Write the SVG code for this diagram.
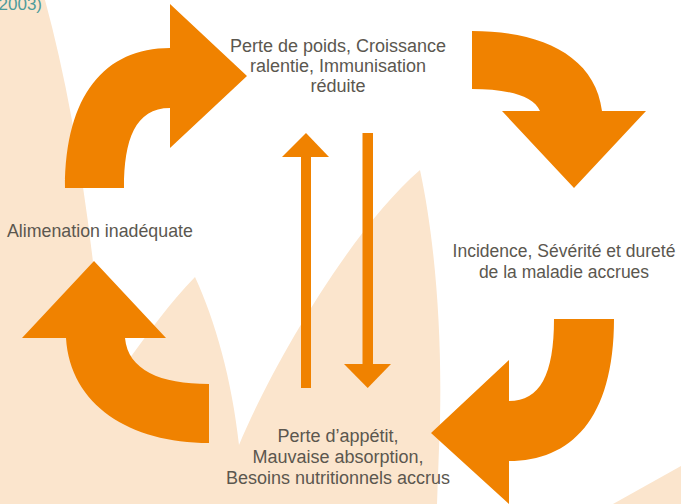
<svg xmlns="http://www.w3.org/2000/svg" width="681" height="504" viewBox="0 0 681 504">
  <style>
    .leaf { fill: #fbe5cd; }
    .arrow { fill: #f08200; }
    .label { font-family: "Liberation Sans", Arial, sans-serif; font-size: 18px; fill: #5b574f; }
    .mid { text-anchor: middle; }
    .ref { font-family: "Liberation Sans", Arial, sans-serif; font-size: 17px; fill: #4e9b9b; text-anchor: end; }
  </style>

  <rect width="681" height="504" fill="#ffffff"/>

  <!-- soft leaf shapes behind the cycle -->
  <g id="background">
    <path class="leaf" d="M0,0 L45,0 Q75,110 93,262 L118,350 L125,365 C150,330 170,303 195,277 C215,320 232,380 239,445 C270,370 350,230 420,170 C435,240 442,330 440,420 L437,504 L0,504 Z"/>
    <path class="leaf" d="M613,504 L681,466 L681,504 Z"/>
  </g>

  <text class="ref" x="42" y="10">2003)</text>

  <!-- nodes -->
  <g id="node-perte-poids">
    <text class="label mid" x="338" y="51.5">Perte de poids, Croissance</text>
    <text class="label mid" x="338" y="71.5">ralentie, Immunisation</text>
    <text class="label mid" x="338" y="91.5">réduite</text>
  </g>
  <g id="node-incidence">
    <text class="label mid" x="564" y="256.5" style="font-size:17.5px">Incidence, Sévérité et dureté</text>
    <text class="label mid" x="564" y="277.5" style="font-size:17.5px">de la maladie accrues</text>
  </g>
  <g id="node-appetit">
    <text class="label mid" x="338" y="442">Perte d’appétit,</text>
    <text class="label mid" x="338" y="463">Mauvaise absorption,</text>
    <text class="label mid" x="338" y="483.5">Besoins nutritionnels accrus</text>
  </g>
  <g id="node-alimentation">
    <text class="label" x="7" y="236.5" style="font-size:17.8px">Alimenation inadéquate</text>
  </g>

  <!-- connectors -->
  <g id="connectors">
    <!-- curved cycle arrows -->
    <path class="arrow" d="M65,188 C65,95 105,48 170,48 L170,4 L247,76 L170,148 L170,108 C135,108 124,140 124,188 Z"/>
    <path class="arrow" d="M472,31 C540,31 595,55 602,111 L646,111 L574,188 L502,111 L540,111 C533,95 505,89 472,89 Z"/>
    <path class="arrow" d="M554,319 L614,319 C614,420 570,461 509,461 L509,504 L431,433 L509,360 L509,401 C540,401 554,375 554,319 Z"/>
    <path class="arrow" d="M209,384 L209,443 C130,443 70,405 66,338 L22,338 L94,261 L166,338 L125,338 C128,370 160,384 209,384 Z"/>
    <!-- straight two-way link -->
    <rect class="arrow" x="301" y="156" width="10" height="232"/>
    <polygon class="arrow" points="306,133 329,157 282,157"/>
    <rect class="arrow" x="362.5" y="133" width="10.5" height="232"/>
    <polygon class="arrow" points="344,364 391,364 367.7,388"/>
  </g>
</svg>
